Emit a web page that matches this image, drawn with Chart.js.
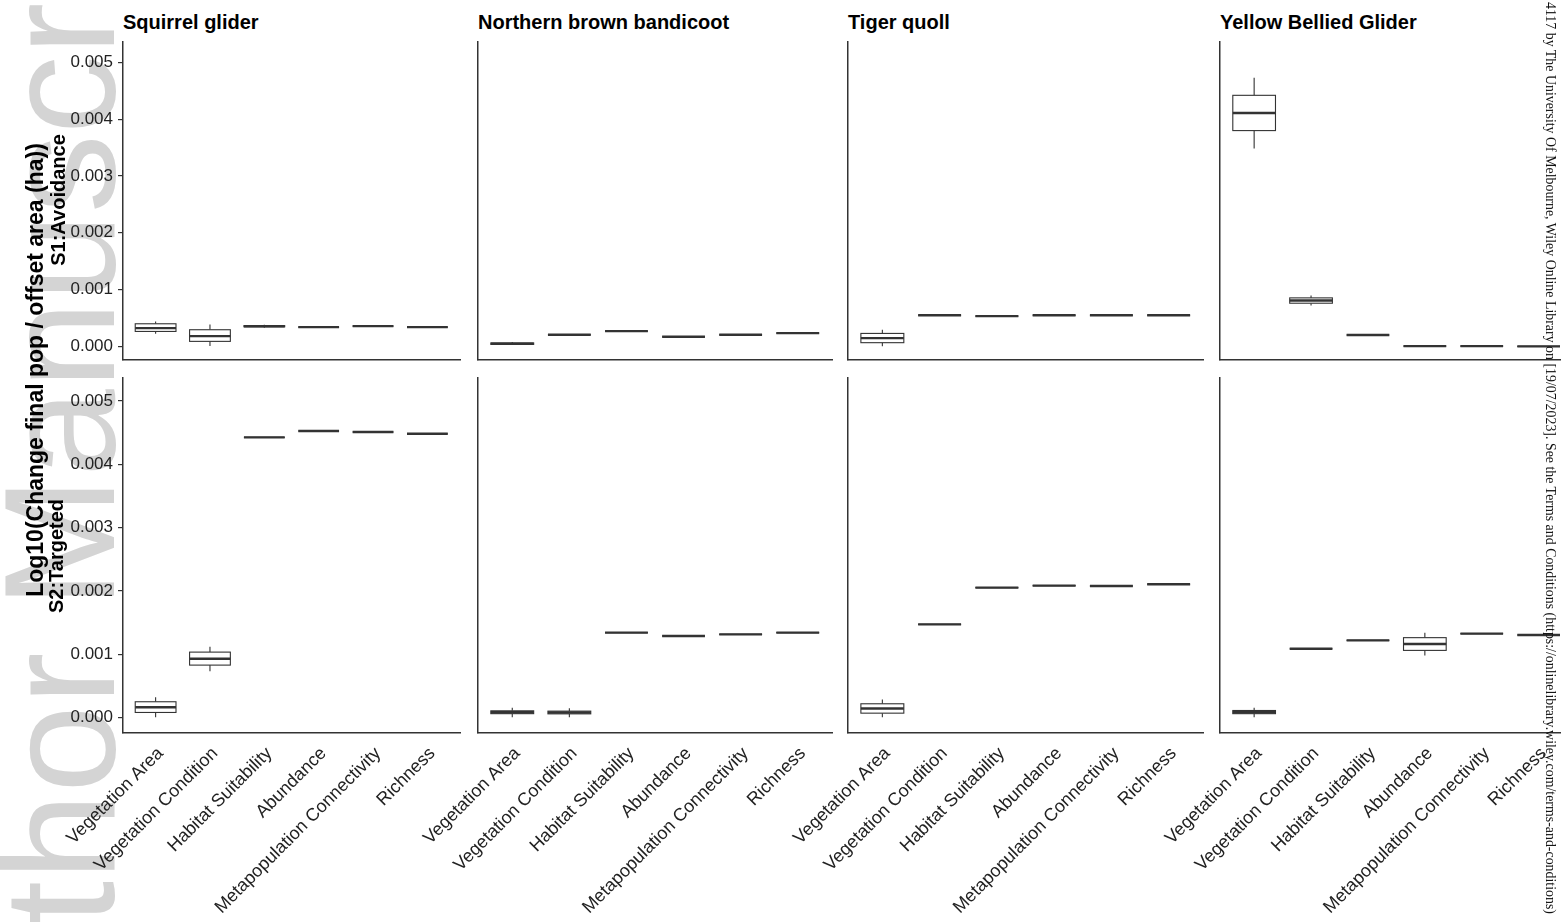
<!DOCTYPE html>
<html>
<head>
<meta charset="utf-8">
<script src="https://cdn.jsdelivr.net/npm/chart.js@4"></script>
<style>
  html, body { margin: 0; padding: 0; background: #fff; }
  body { width: 1565px; height: 922px; position: relative; overflow: hidden;
         font-family: "Liberation Sans", Arial, sans-serif; }
  .panel { position: absolute; z-index: 1; }
  .title { position: absolute; z-index: 2; font-weight: bold; font-size: 20px;
           line-height: 1; color: #000; white-space: nowrap; }
  .rot { position: absolute; white-space: nowrap; line-height: 1; transform-origin: 0 0; }
  .ylab { position: absolute; z-index: 2; white-space: nowrap; line-height: 1; font-weight: bold;
          color: #000; transform: translate(-50%, -50%) rotate(-90deg); }
</style>
</head>
<body>
<div class="rot" style="left:-20px; top:1118px; transform:rotate(-90deg); font-size:158px; color:#d4d4d4; z-index:0;">Author Manuscript</div>
<div class="rot" style="left:1557px; top:2px; transform:rotate(90deg); font-family:'Liberation Serif','Times New Roman',serif; font-size:13.9px; color:#111; z-index:3;">4117 by The University Of Melbourne, Wiley Online Library on [19/07/2023]. See the Terms and Conditions (https://onlinelibrary.wiley.com/terms-and-conditions)</div>

<div class="ylab" style="left:35px; top:370px; font-size:23px;">Log10(Change final pop / offset area (ha))</div>
<div class="ylab" style="left:58px; top:200px; font-size:20px;">S1:Avoidance</div>
<div class="ylab" style="left:56px; top:556px; font-size:20px;">S2:Targeted</div>

<script>
const categories = ['Vegetation Area', 'Vegetation Condition', 'Habitat Suitability',
                    'Abundance', 'Metapopulation Connectivity', 'Richness'];
const species = ['Squirrel glider', 'Northern brown bandicoot', 'Tiger quoll', 'Yellow Bellied Glider'];
const scenarios = ['S1:Avoidance', 'S2:Targeted'];
const yTicks = [0, 0.001, 0.002, 0.003, 0.004, 0.005];
const yMin = -0.00024;
const yMax = 0.00536;

// Each box: [low whisker, q1, median, q3, high whisker]
const s1SquirrelGlider = [
    [0.000223, 0.000263, 0.000321, 0.000398, 0.000439],
    [0.000005, 0.000088, 0.000181, 0.000293, 0.000386],
    [0.000330, 0.000345, 0.000355, 0.000365, 0.000380],
    [0.000339, 0.000339, 0.000339, 0.000339, 0.000339],
    [0.000356, 0.000356, 0.000356, 0.000356, 0.000356],
    [0.000339, 0.000339, 0.000339, 0.000339, 0.000339]
];
const s1Bandicoot = [
    [0.000025, 0.000035, 0.000047, 0.000060, 0.000075],
    [0.000205, 0.000205, 0.000205, 0.000205, 0.000205],
    [0.000268, 0.000268, 0.000268, 0.000268, 0.000268],
    [0.000170, 0.000170, 0.000170, 0.000170, 0.000170],
    [0.000205, 0.000205, 0.000205, 0.000205, 0.000205],
    [0.000234, 0.000234, 0.000234, 0.000234, 0.000234]
];
const s1TigerQuoll = [
    [0.000000, 0.000065, 0.000146, 0.000228, 0.000293],
    [0.000549, 0.000549, 0.000549, 0.000549, 0.000549],
    [0.000532, 0.000532, 0.000532, 0.000532, 0.000532],
    [0.000549, 0.000549, 0.000549, 0.000549, 0.000549],
    [0.000549, 0.000549, 0.000549, 0.000549, 0.000549],
    [0.000549, 0.000549, 0.000549, 0.000549, 0.000549]
];
const s1YellowBellied = [
    [0.003486, 0.003800, 0.004111, 0.004421, 0.004732],
    [0.000719, 0.000760, 0.000807, 0.000854, 0.000895],
    [0.000199, 0.000199, 0.000199, 0.000199, 0.000199],
    [0.000005, 0.000005, 0.000005, 0.000005, 0.000005],
    [0.000005, 0.000005, 0.000005, 0.000005, 0.000005],
    [0.000000, 0.000000, 0.000000, 0.000000, 0.000000]
];
const s2SquirrelGlider = [
    [0.000009, 0.000084, 0.000167, 0.000253, 0.000325],
    [0.000736, 0.000831, 0.000932, 0.001036, 0.001122],
    [0.004423, 0.004423, 0.004423, 0.004423, 0.004423],
    [0.004523, 0.004523, 0.004523, 0.004523, 0.004523],
    [0.004507, 0.004507, 0.004507, 0.004507, 0.004507],
    [0.004480, 0.004480, 0.004480, 0.004480, 0.004480]
];
const s2Bandicoot = [
    [0.000009, 0.000065, 0.000088, 0.000110, 0.000158],
    [0.000009, 0.000062, 0.000084, 0.000105, 0.000150],
    [0.001343, 0.001343, 0.001343, 0.001343, 0.001343],
    [0.001289, 0.001289, 0.001289, 0.001289, 0.001289],
    [0.001316, 0.001316, 0.001316, 0.001316, 0.001316],
    [0.001343, 0.001343, 0.001343, 0.001343, 0.001343]
];
const s2TigerQuoll = [
    [0.000010, 0.000073, 0.000147, 0.000221, 0.000289],
    [0.001474, 0.001474, 0.001474, 0.001474, 0.001474],
    [0.002054, 0.002054, 0.002054, 0.002054, 0.002054],
    [0.002085, 0.002085, 0.002085, 0.002085, 0.002085],
    [0.002080, 0.002080, 0.002080, 0.002080, 0.002080],
    [0.002106, 0.002106, 0.002106, 0.002106, 0.002106]
];
const s2YellowBellied = [
    [0.000009, 0.000065, 0.000088, 0.000115, 0.000158],
    [0.001090, 0.001090, 0.001090, 0.001090, 0.001090],
    [0.001221, 0.001221, 0.001221, 0.001221, 0.001221],
    [0.000984, 0.001063, 0.001163, 0.001264, 0.001343],
    [0.001327, 0.001327, 0.001327, 0.001327, 0.001327],
    [0.001305, 0.001305, 0.001305, 0.001305, 0.001305]
];

const panels = [
    [s1SquirrelGlider, s1Bandicoot, s1TigerQuoll, s1YellowBellied],
    [s2SquirrelGlider, s2Bandicoot, s2TigerQuoll, s2YellowBellied]
];

// page layout (pixels)
const colLeft = [123, 478, 848, 1220];
const colWidth = [337, 354, 355, 340];
const colXMax = [6.6, 6.6, 6.6, 6.375];
const rowTop = [42, 378];
const rowHeight = [318, 355];
const fontFamily = '"Liberation Sans", Arial, sans-serif';
const ink = '#333';

// draws boxes, whiskers and medians with the chart's own scales
const boxPlugin = {
    id: 'boxes',
    afterDatasetsDraw(chart) {
        const ctx = chart.ctx;
        const x = chart.scales.x;
        const y = chart.scales.y;
        const stats = chart.data.datasets[0].stats;
        const half = x.getPixelForValue(1.375) - x.getPixelForValue(1);
        ctx.save();
        ctx.strokeStyle = ink;
        stats.forEach((s, i) => {
            const cx = x.getPixelForValue(i + 1);
            const [lo, q1, med, q3, hi] = s.map(v => y.getPixelForValue(v));
            ctx.lineWidth = 1.1;
            ctx.beginPath();
            ctx.moveTo(cx, hi); ctx.lineTo(cx, q3);
            ctx.moveTo(cx, q1); ctx.lineTo(cx, lo);
            ctx.stroke();
            ctx.fillStyle = '#fff';
            ctx.fillRect(cx - half, q3, 2 * half, q1 - q3);
            ctx.strokeRect(cx - half, q3, 2 * half, q1 - q3);
            ctx.lineWidth = 2.4;
            ctx.beginPath();
            ctx.moveTo(cx - half, med);
            ctx.lineTo(cx + half, med);
            ctx.stroke();
        });
        ctx.restore();
    }
};

function noPadding(s) {
    s.paddingTop = 0;
    s.paddingBottom = 0;
    s.paddingLeft = 0;
    s.paddingRight = 0;
}

function makePanel(row, col) {
    const left = col === 0 ? 0 : colLeft[col] - 100;
    const yW = colLeft[col] - left;
    const top = rowTop[row] - 2;
    const xH = row === 1 ? 185 : 2;
    const w = yW + colWidth[col] + 6;
    const h = 2 + rowHeight[row] + xH;

    const canvas = document.createElement('canvas');
    canvas.className = 'panel';
    canvas.width = w;
    canvas.height = h;
    canvas.style.left = left + 'px';
    canvas.style.top = top + 'px';
    canvas.style.width = w + 'px';
    canvas.style.height = h + 'px';
    document.body.appendChild(canvas);

    const stats = panels[row][col];

    new Chart(canvas, {
        type: 'scatter',
        data: {
            datasets: [{
                data: stats.map((s, i) => ({ x: i + 1, y: s[2] })),
                stats: stats,
                pointRadius: 0
            }]
        },
        options: {
            responsive: false,
            animation: false,
            layout: { autoPadding: false, padding: { top: 2, right: 6, left: 0, bottom: 0 } },
            plugins: { legend: { display: false }, tooltip: { enabled: false } },
            scales: {
                x: {
                    type: 'linear',
                    min: 0.4,
                    max: colXMax[col],
                    afterBuildTicks: s => { s.ticks = categories.map((c, i) => ({ value: i + 1 })); },
                    afterFit: s => { s.height = xH; noPadding(s); },
                    grid: { display: true, drawOnChartArea: false, drawTicks: false },
                    border: { display: true, color: ink, width: 1.5 },
                    ticks: {
                        display: row === 1,
                        autoSkip: false,
                        minRotation: 45,
                        maxRotation: 45,
                        padding: 10,
                        labelOffset: 5,
                        color: '#222',
                        font: { size: 18, family: fontFamily },
                        callback: v => categories[v - 1]
                    }
                },
                y: {
                    type: 'linear',
                    min: yMin,
                    max: yMax,
                    afterBuildTicks: s => { s.ticks = yTicks.map(v => ({ value: v })); },
                    afterFit: s => { s.width = yW; noPadding(s); },
                    grid: { display: true, drawOnChartArea: false, drawTicks: col === 0,
                            tickLength: 5, color: ink, lineWidth: 1.2 },
                    border: { display: true, color: ink, width: 1.5 },
                    ticks: {
                        display: col === 0,
                        padding: 5,
                        color: '#222',
                        font: { size: 17, family: fontFamily },
                        callback: v => v.toFixed(3)
                    }
                }
            }
        },
        plugins: [boxPlugin]
    });
}

species.forEach((name, col) => {
    const t = document.createElement('div');
    t.className = 'title';
    t.textContent = name;
    t.style.left = colLeft[col] + 'px';
    t.style.top = '12px';
    document.body.appendChild(t);
});

scenarios.forEach((s, row) => {
    species.forEach((name, col) => makePanel(row, col));
});
</script>
</body>
</html>
